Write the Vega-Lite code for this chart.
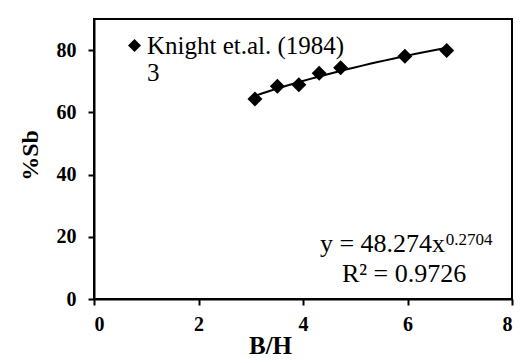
{
  "$schema": "https://vega.github.io/schema/vega-lite/v6.json",
  "width": 418,
  "height": 280,
  "autosize": "none",
  "padding": {"left": 94, "top": 19, "right": 15, "bottom": 64},
  "background": "white",
  "config": {
    "view": {"stroke": "black", "strokeWidth": 2},
    "font": "Liberation Serif",
    "axis": {"labelFontWeight": 700, "labelFont": "Liberation Serif"}
  },
  "datasets": {
    "points": [
      {"bh": 3.08, "sb": 64.3, "series": "Knight et.al. (1984)\n3"},
      {"bh": 3.51, "sb": 68.4, "series": "Knight et.al. (1984)\n3"},
      {"bh": 3.92, "sb": 68.9, "series": "Knight et.al. (1984)\n3"},
      {"bh": 4.31, "sb": 72.6, "series": "Knight et.al. (1984)\n3"},
      {"bh": 4.72, "sb": 74.3, "series": "Knight et.al. (1984)\n3"},
      {"bh": 5.95, "sb": 78.0, "series": "Knight et.al. (1984)\n3"},
      {"bh": 6.75, "sb": 79.9, "series": "Knight et.al. (1984)\n3"}
    ]
  },
  "layer": [
    {
      "data": {"name": "points"},
      "transform": [{"regression": "sb", "on": "bh", "method": "pow"}],
      "mark": {"type": "line", "color": "black", "strokeWidth": 2},
      "encoding": {
        "x": {"field": "bh", "type": "quantitative", "scale": {"domain": [0, 8]},
          "axis": {"values": [0, 2, 4, 6, 8], "title": "B/H", "grid": false,
            "domainColor": "black", "domainWidth": 2, "tickColor": "black", "tickWidth": 2, "tickSize": 6,
            "labelFont": "Liberation Serif", "labelFontWeight": 700, "labelFontSize": 20, "labelColor": "black", "labelPadding": 9,
            "titleFont": "Liberation Serif", "titleFontWeight": "bold", "titleFontSize": 25, "titleColor": "black",
            "titleX": 176, "titleY": 54, "titleBaseline": "alphabetic", "titleAlign": "center"}},
        "y": {"field": "sb", "type": "quantitative", "scale": {"domain": [0, 90]},
          "axis": {"values": [0, 20, 40, 60, 80], "title": "%Sb", "grid": false,
            "domainColor": "black", "domainWidth": 2, "tickColor": "black", "tickWidth": 2, "tickSize": 6,
            "labelFont": "Liberation Serif", "labelFontWeight": 700, "labelFontSize": 20, "labelColor": "black", "labelPadding": 12,
            "titleFont": "Liberation Serif", "titleFontWeight": "bold", "titleFontSize": 24, "titleColor": "black",
            "titleX": -57, "titleY": 136, "titleAngle": -90, "titleAlign": "center", "titleBaseline": "alphabetic"}}
      }
    },
    {
      "data": {"name": "points"},
      "mark": {"type": "point", "filled": true, "size": 225, "opacity": 1, "color": "black"},
      "encoding": {
        "x": {"field": "bh", "type": "quantitative"},
        "y": {"field": "sb", "type": "quantitative"},
        "shape": {"field": "series", "type": "nominal", "scale": {"range": ["diamond"]},
          "legend": {"title": null, "orient": "none", "legendX": 28, "legendY": 14,
            "labelExpr": "split(datum.label, '\\n')",
            "labelFont": "Liberation Serif", "labelFontSize": 25, "labelColor": "black",
            "labelLimit": 0, "labelOffset": 0, "labelBaseline": "middle", "labelLineHeight": 29,
            "symbolSize": 169, "symbolFillColor": "black", "symbolStrokeColor": "black", "symbolType": "diamond", "padding": 0}}
      }
    },
    {
      "data": {"values": [{"bh": 6.72, "sb": 15.1, "label": "y = 48.274x"}]},
      "mark": {"type": "text", "align": "right", "baseline": "alphabetic", "font": "Liberation Serif", "fontSize": 26, "color": "black"},
      "encoding": {
        "x": {"field": "bh", "type": "quantitative"},
        "y": {"field": "sb", "type": "quantitative"},
        "text": {"field": "label"}
      }
    },
    {
      "data": {"values": [{"bh": 6.73, "sb": 17.4, "label": "0.2704"}]},
      "mark": {"type": "text", "align": "left", "baseline": "alphabetic", "font": "Liberation Serif", "fontSize": 17, "color": "black"},
      "encoding": {
        "x": {"field": "bh", "type": "quantitative"},
        "y": {"field": "sb", "type": "quantitative"},
        "text": {"field": "label"}
      }
    },
    {
      "data": {"values": [{"bh": 4.746, "sb": 5.56, "label": "R² = 0.9726"}]},
      "mark": {"type": "text", "align": "left", "baseline": "alphabetic", "font": "Liberation Serif", "fontSize": 26, "color": "black"},
      "encoding": {
        "x": {"field": "bh", "type": "quantitative"},
        "y": {"field": "sb", "type": "quantitative"},
        "text": {"field": "label"}
      }
    }
  ]
}
